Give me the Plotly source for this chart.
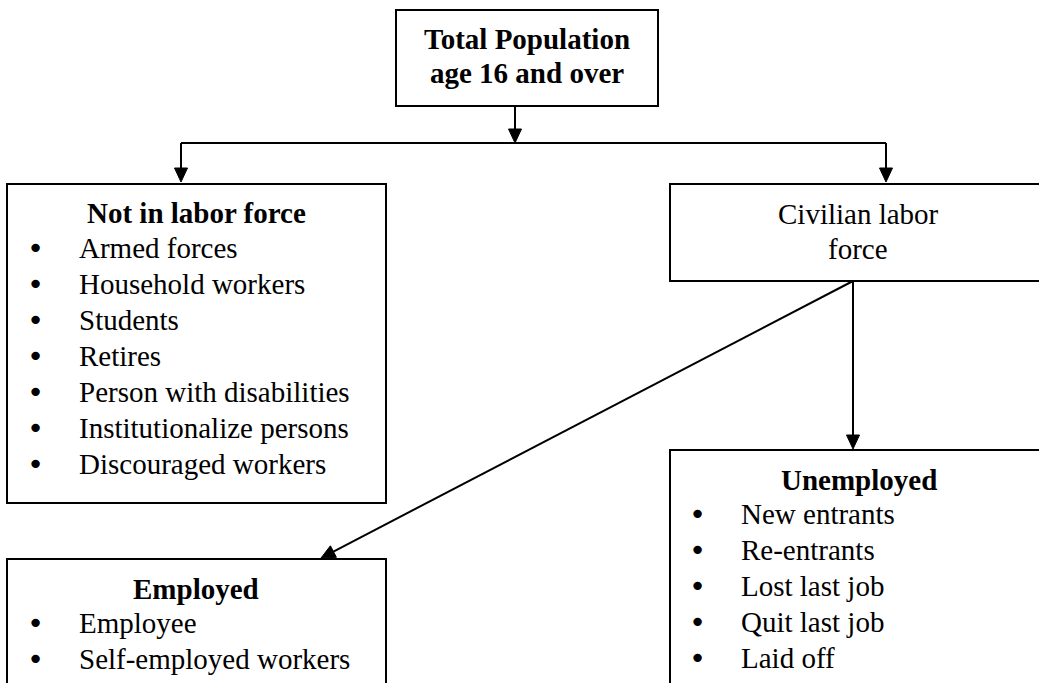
import math
import plotly.graph_objects as go

# ---- diagram content ----
total_lines = ["Total Population", "age 16 and over"]
not_lf_title = "Not in labor force"
not_lf_items = ["Armed forces", "Household workers", "Students", "Retires",
                "Person with disabilities", "Institutionalize persons",
                "Discouraged workers"]
civilian_lines = ["Civilian labor", "force"]
employed_title = "Employed"
employed_items = ["Employee", "Self-employed workers"]
unemployed_title = "Unemployed"
unemployed_items = ["New entrants", "Re-entrants", "Lost last job",
                    "Quit last job", "Laid off"]

W, H = 1039, 683
FONT = "Liberation Serif, Times New Roman, serif"
FS = 29
LINE = 36

fig = go.Figure()
shapes = []
annots = []


def box(x0, y0, x1, y1):
    shapes.append(dict(type="rect", x0=x0, y0=y0, x1=x1, y1=y1,
                       line=dict(color="black", width=2), fillcolor="white",
                       layer="below"))


def line(x0, y0, x1, y1):
    shapes.append(dict(type="line", x0=x0, y0=y0, x1=x1, y1=y1,
                       line=dict(color="black", width=2)))


def arrow(x0, y0, x1, y1, hl=14, hw=6.5):
    dx, dy = x1 - x0, y1 - y0
    L = math.hypot(dx, dy)
    ux, uy = dx / L, dy / L
    bx, by = x1 - ux * hl, y1 - uy * hl
    line(x0, y0, bx, by)
    px, py = -uy, ux
    p = (f"M {x1},{y1} L {bx + px * hw},{by + py * hw} "
         f"L {bx - px * hw},{by - py * hw} Z")
    shapes.append(dict(type="path", path=p, fillcolor="black",
                       line=dict(color="black", width=1)))


def text(x, y, s, bold=False, anchor="center", size=FS, family=FONT):
    if bold:
        s = f"<b>{s}</b>"
    annots.append(dict(x=x, y=y, text=s, showarrow=False, xanchor=anchor,
                       yanchor="middle", xref="x", yref="y",
                       font=dict(family=family, size=size, color="black")))


def bullets(items, y_start, xb, xt):
    for i, s in enumerate(items):
        y = y_start + i * LINE
        text(xb, y, "•", anchor="center", family="DejaVu Sans", size=FS)
        text(xt, y, s, anchor="left")


# boxes
box(396, 10, 658, 106)
box(7, 184, 386, 503)
box(670, 184, 1045, 281)
box(7, 559, 386, 690)
box(670, 450, 1045, 690)

# connectors
arrow(515, 106, 515, 143)
line(181, 143, 886, 143)
arrow(181, 143, 181, 182)
arrow(886, 143, 886, 182)
arrow(853, 281, 321, 558)
arrow(853, 281, 853, 449)

# texts
for i, s in enumerate(total_lines):
    text(527, 39 + i * 34, s, bold=True)
text(196, 213, not_lf_title, bold=True)
bullets(not_lf_items, 248, 35, 77)
for i, s in enumerate(civilian_lines):
    text(858, 214 + i * 35, s)
text(196, 589, employed_title, bold=True)
bullets(employed_items, 623, 35, 77)
text(859, 480, unemployed_title, bold=True)
bullets(unemployed_items, 514, 697, 739)

fig.update_layout(
    width=W, height=H, margin=dict(l=0, r=0, t=0, b=0),
    paper_bgcolor="white", plot_bgcolor="white",
    xaxis=dict(range=[0, W], visible=False, fixedrange=True),
    yaxis=dict(range=[H, 0], visible=False, fixedrange=True),
    shapes=shapes, annotations=annots, showlegend=False,
)

fig.write_html("out.html", config={"displayModeBar": False},
               post_script="document.body.style.margin='0';"
                           "document.body.style.overflow='hidden';")
